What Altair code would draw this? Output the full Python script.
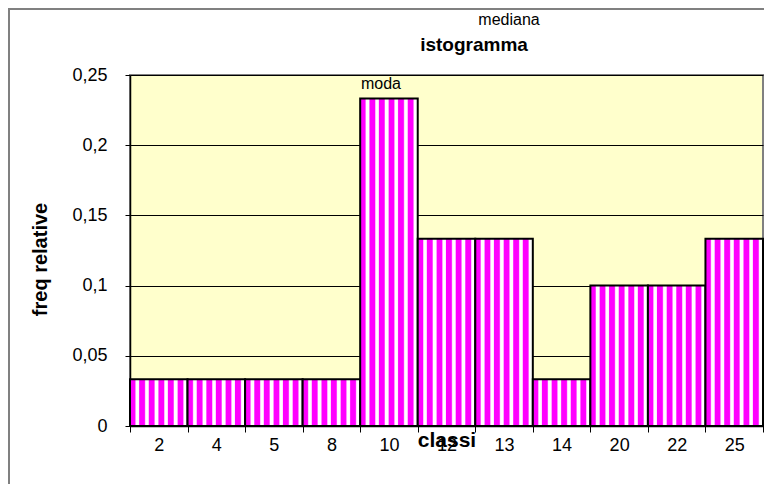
import altair as alt
import pandas as pd

# ---- data ----
classi = ["2", "4", "5", "8", "10", "12", "13", "14", "20", "22", "25"]
freq_relative = [0.0333, 0.0333, 0.0333, 0.0333, 0.2333, 0.1333, 0.1333,
                 0.0333, 0.1, 0.1, 0.1333]
y_ticks = [0, 0.05, 0.1, 0.15, 0.2, 0.25]
moda_classe = ["10"]
moda_freq = [0.2333]

df = pd.DataFrame({"classe": classi, "freq": freq_relative})
df_moda = pd.DataFrame({"classe": moda_classe, "freq": moda_freq, "t": ["moda"]})

FONT = "Liberation Sans"
MAG, PINK, WHITE = "#FF00FF", "#FF99FF", "#FFFFFF"

# vertical stripe pattern as a hard-stop linear gradient
n = 6
stops = []
for i in range(n):
    b, w = i / n, 1 / n
    stops += [
        {"offset": b, "color": MAG},
        {"offset": b + 0.50 * w, "color": MAG},
        {"offset": b + 0.58 * w, "color": PINK},
        {"offset": b + 0.64 * w, "color": WHITE},
        {"offset": b + 0.88 * w, "color": WHITE},
        {"offset": b + 0.96 * w, "color": PINK},
    ]
stops.append({"offset": 1, "color": PINK})
stripes = {"gradient": "linear", "x1": 0, "x2": 1, "y1": 0, "y2": 0, "stops": stops}

W, H = 633, 351
PAD = {"left": 122, "top": 67, "right": 1, "bottom": 58}

bars = alt.Chart(df).mark_bar(fill=stripes, stroke="black", strokeWidth=2).encode(
    x=alt.X("classe:N", sort=classi,
            scale=alt.Scale(paddingInner=0, paddingOuter=0),
            axis=alt.Axis(title="classi", tickBand="extent", labelAngle=0,
                          tickSize=6, labelPadding=4,
                          titleFontWeight="bold", titleFontSize=21,
                          titleY=14, titleBaseline="middle")),
    y=alt.Y("freq:Q", scale=alt.Scale(domain=[0, 0.25], nice=False),
            axis=alt.Axis(title="freq relative", values=y_ticks,
                          labelExpr="replace(format(datum.value, '~g'), '.', ',')",
                          tickSize=5, labelPadding=18, grid=True,
                          gridColor="black", gridWidth=1,
                          titleFontWeight="bold", titleFontSize=20,
                          titleAngle=270, titleX=-90, titleY=184,
                          titleAlign="center", titleBaseline="middle")),
)

moda = alt.Chart(df_moda).mark_text(font=FONT, fontSize=16, dx=-8, dy=-14, baseline="middle",
                                     color="black").encode(
    x=alt.X("classe:N", sort=classi), y="freq:Q", text="t:N")

def label(txt, x, y, bold=False, size=16):
    return alt.Chart(pd.DataFrame({"t": [txt]})).mark_text(
        font=FONT, fontSize=size, fontWeight="bold" if bold else "normal",
        color="black", baseline="middle", align="center").encode(
        text="t:N", x=alt.value(x), y=alt.value(y))

mediana = label("mediana", 379, -55)
titolo = label("istogramma", 344, -30, bold=True, size=19)

frame_top = alt.Chart(pd.DataFrame({"a": [0]})).mark_rule(color="#808080", strokeWidth=2).encode(
    x=alt.value(-122), x2=alt.value(W + 1), y=alt.value(-66))
frame_left = alt.Chart(pd.DataFrame({"a": [0]})).mark_rule(color="#808080", strokeWidth=2).encode(
    x=alt.value(-121), y=alt.value(-66), y2=alt.value(H + 58))

chart = alt.layer(bars, moda, mediana, titolo, frame_top, frame_left).properties(
    width=W, height=H,
    autosize=alt.AutoSizeParams(type="none"),
    padding=PAD,
    background="white",
).configure_view(
    fill="#FFFFCC", stroke="#808080", strokeWidth=2
).configure_axis(
    labelFont=FONT, labelFontSize=18, labelColor="black",
    titleFont=FONT, titleColor="black",
    domainColor="black", domainWidth=1.5, tickColor="black", tickWidth=1,
)

chart.save("out.html", embed_options={"renderer": "svg", "actions": False})
